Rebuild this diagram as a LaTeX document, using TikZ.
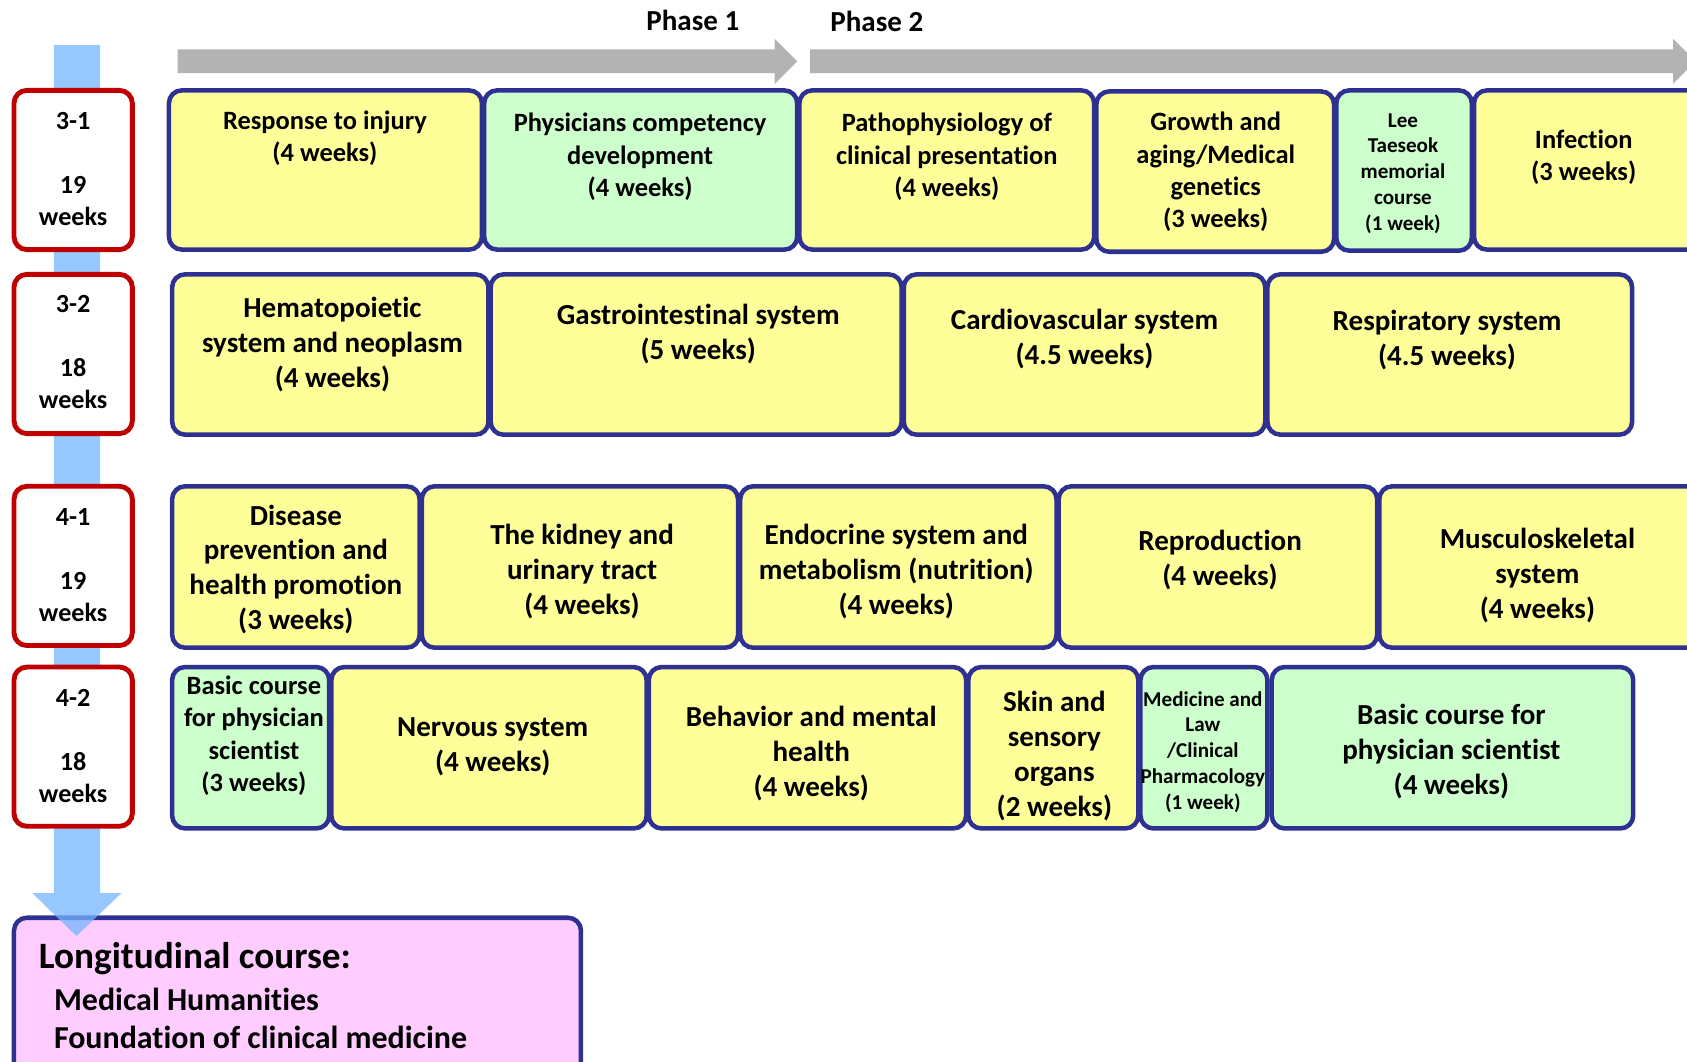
\documentclass[tikz,border=0pt]{standalone}
\usepackage{fontspec}
\setmainfont{Carlito}[Ligatures=NoCommon]

\begin{document}
\begin{tikzpicture}[x=1pt,y=-1pt,
  crs/.style={draw=cr_navy,line width=4.2pt,rounded corners=12pt},
  yel/.style={crs,fill=cr_yellow},
  grn/.style={crs,fill=cr_green},
  term/.style={draw=cr_red,line width=4.5pt,fill=white,rounded corners=12pt},
  txtA/.style={align=center,inner sep=0pt,yshift=-1.8pt,font=\bfseries\fontsize{24.6}{30}\selectfont},
  txtB/.style={align=center,inner sep=0pt,yshift=-1.8pt,font=\bfseries\fontsize{27}{32.5}\selectfont},
  txtS/.style={align=center,inner sep=0pt,yshift=-1.8pt,font=\bfseries\fontsize{19.6}{24}\selectfont},
  txtL/.style={anchor=west,inner sep=0pt,yshift=-1.8pt,font=\bfseries\fontsize{29.7}{35}\selectfont}]
% ------------------------------------------------ curriculum colors
\definecolor{cr_yellow}{RGB}{255,255,153} %#FFFF99
\definecolor{cr_green}{RGB}{204,255,204}  %#CCFFCC
\definecolor{cr_pink}{RGB}{255,204,255}   %#FFCCFF
\definecolor{cr_navy}{RGB}{46,49,146}     %#2E3192
\definecolor{cr_red}{RGB}{192,0,0}        %#C00000
\definecolor{cr_gray}{RGB}{179,179,179}   %#B3B3B3
\definecolor{cr_blue}{RGB}{115,182,255}

\useasboundingbox (0,0) rectangle (1568,987);
\clip (0,0) rectangle (1568,987);

% ---------------------------------------------  phase arrows
\fill[cr_gray] (165,46) -- (720,46) -- (720,36) -- (741,57) -- (720,78) -- (720,68) -- (165,68) -- cycle;
\fill[cr_gray] (753,46) -- (1555,46) -- (1555,36) -- (1576,57) -- (1555,78) -- (1555,68) -- (753,68) -- cycle;
\node[txtB,yshift=1.8pt] (ph1) at (644,19) {Phase 1};
\node[txtB,yshift=1.8pt] (ph2) at (815,20) {Phase 2};

% ---------------------------------------------  longitudinal course
\draw[crs,fill=cr_pink] (13,853) rectangle (540,1010);
\node[txtL,font=\bfseries\fontsize{34.6}{40}\selectfont] (lon) at (36,889) {Longitudinal course:};
\node[txtL] (hum) at (50,927) {Medical Humanities};
\node[txtL] (fcm) at (50,962) {Foundation of clinical medicine};

% ---------------------------------------------  time line and terms
\fill[cr_blue,opacity=0.75] (50,42) -- (93,42) -- (93,830) -- (113,830) -- (71,870) -- (30,830) -- (50,830) -- cycle;

\draw[term] (13,84) rectangle (123,232);
\draw[term] (13,255) rectangle (123,403);
\draw[term] (13,452) rectangle (123,600);
\draw[term] (13,620) rectangle (123,768);
\node[txtA,font=\bfseries\fontsize{24.3}{29.7}\selectfont] (t31) at (68,155.5) {3-1\\[29.7pt]19\\weeks};
\node[txtA,font=\bfseries\fontsize{24.3}{29.7}\selectfont] (t32) at (68,325.5) {3-2\\[29.7pt]18\\weeks};
\node[txtA,font=\bfseries\fontsize{24.3}{29.7}\selectfont] (t41) at (68,523.5) {4-1\\[29.7pt]19\\weeks};
\node[txtA,font=\bfseries\fontsize{24.3}{29.7}\selectfont] (t42) at (68,691.5) {4-2\\[29.7pt]18\\weeks};

% ---------------------------------------------  3-1
\draw[yel] (157,84) rectangle (448,232);
\draw[grn] (450,84) rectangle (741,232);
\draw[yel] (743,84) rectangle (1017,232);
\draw[yel] (1019,85) rectangle (1240,234);
\draw[grn] (1242,84) rectangle (1368,233);
\draw[yel] (1370,84) rectangle (1600,232);
\node[txtA] (inj) at (302,127) {Response to injury\\(4 weeks)};
\node[txtA] (phy) at (595,144) {Physicians competency\\development\\(4 weeks)};
\node[txtA] (pat) at (880,144) {Pathophysiology of\\clinical presentation\\(4 weeks)};
\node[txtA] (gro) at (1130,158) {Growth and\\aging/Medical\\genetics\\(3 weeks)};
\node[txtS] (lee) at (1304,159.5) {Lee\\Taeseok\\memorial\\course\\(1 week)};
\node[txtA] (inf) at (1472,144) {Infection\\(3 weeks)};

% ---------------------------------------------  3-2
\draw[yel] (160,255) rectangle (454,404);
\draw[yel] (456,255) rectangle (838,404);
\draw[yel] (840,255) rectangle (1176,404);
\draw[yel] (1178,255) rectangle (1517,404);
\node[txtB] (hem) at (309,318) {Hematopoietic\\system and neoplasm\\(4 weeks)};
\node[txtB] (gas) at (649,309) {Gastrointestinal system\\(5 weeks)};
\node[txtB] (car) at (1008,313) {Cardiovascular system\\(4.5 weeks)};
\node[txtB] (res) at (1345,314.5) {Respiratory system\\(4.5 weeks)};

% ---------------------------------------------  4-1
\draw[yel] (160,452) rectangle (390,602);
\draw[yel] (392,452) rectangle (686,602);
\draw[yel] (688,452) rectangle (982,602);
\draw[yel] (984,452) rectangle (1280,602);
\draw[yel] (1282,452) rectangle (1600,602);
\node[txtB] (dis) at (275,527.5) {Disease\\prevention and\\health promotion\\(3 weeks)};
\node[txtB] (kid) at (541,529) {The kidney and\\urinary tract\\(4 weeks)};
\node[txtB] (end) at (833,529) {Endocrine system and\\metabolism (nutrition)\\(4 weeks)};
\node[txtB] (rep) at (1134,518.5) {Reproduction\\(4 weeks)};
\node[txtB] (mus) at (1429,533.5) {Musculoskeletal\\system\\(4 weeks)};

% ---------------------------------------------  4-2
\draw[grn] (160,620) rectangle (306,770);
\draw[yel] (308,620) rectangle (601,770);
\draw[yel] (603,620) rectangle (898,770);
\draw[yel] (900,620) rectangle (1058,770);
\draw[grn] (1060,620) rectangle (1178,770);
\draw[grn] (1182,620) rectangle (1518,770);
\node[txtA] (bs1) at (236,682) {Basic course\\for physician\\scientist\\(3 weeks)};
\node[txtB] (ner) at (458,692.5) {Nervous system\\(4 weeks)};
\node[txtB] (beh) at (754,698.5) {Behavior and mental\\health\\(4 weeks)};
\node[txtB] (ski) at (980,700.5) {Skin and\\sensory\\organs\\(2 weeks)};
\node[txtS] (law) at (1118,697) {Medicine and\\Law\\/Clinical\\Pharmacology\\(1 week)};
\node[txtB] (bs2) at (1349,697) {Basic course for\\physician scientist\\(4 weeks)};

\end{tikzpicture}
\end{document}
